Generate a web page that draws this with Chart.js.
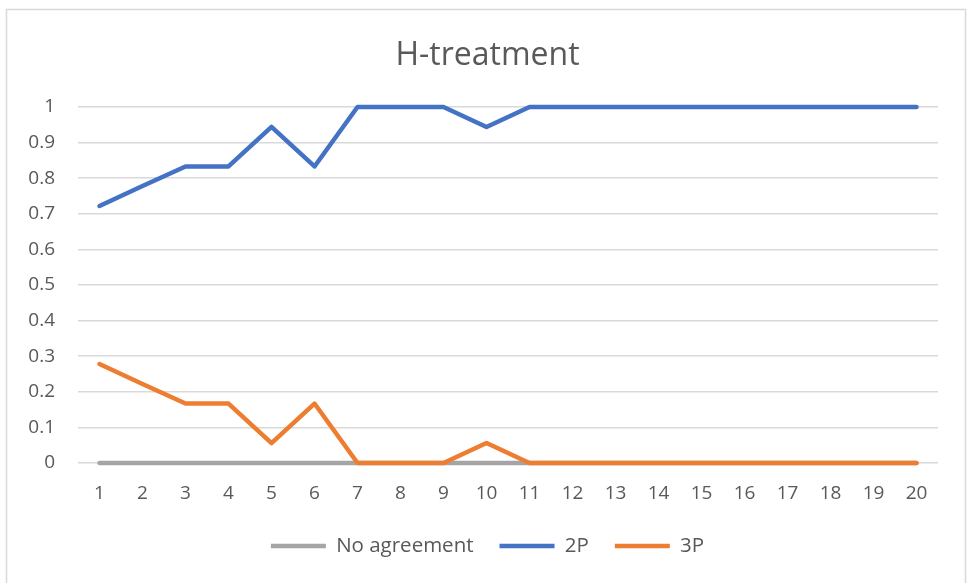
<!DOCTYPE html>
<html>
<head>
<meta charset="utf-8">
<script src="https://cdn.jsdelivr.net/npm/chart.js@4"></script>
<style>
  html, body { margin: 0; padding: 0; background: #fff; }
  #wrap { width: 971px; height: 583px; }
</style>
</head>
<body>
<div id="wrap"><canvas id="chart" width="971" height="583"></canvas></div>
<script>
// data
const rounds = ['1','2','3','4','5','6','7','8','9','10','11','12','13','14','15','16','17','18','19','20'];
const noAgreement = [0,0,0,0,0,0,0,0,0,0,0,0,0,0,0,0,0,0,0,0];
const twoP = [0.722,0.778,0.833,0.833,0.944,0.833,1,1,1,0.944,1,1,1,1,1,1,1,1,1,1];
const threeP = [0.278,0.222,0.167,0.167,0.056,0.167,0,0,0,0.056,0,0,0,0,0,0,0,0,0,0];

const textColor = '#595959';
const gridColor = '#d9d9d9';
const fontFamily = '"Open Sans", "Noto Sans", sans-serif';

// light frame round the whole chart, like the Excel chart border
const framePlugin = {
  id: 'frame',
  beforeDraw(chart) {
    const ctx = chart.ctx;
    ctx.save();
    ctx.strokeStyle = gridColor;
    ctx.lineWidth = 1.5;
    ctx.strokeRect(6.5, 9.5, 959, 590);
    ctx.restore();
  },
};

const ctx = document.getElementById('chart').getContext('2d');
new Chart(ctx, {
  type: 'line',
  data: {
    labels: rounds,
    datasets: [
      {
        label: 'No agreement',
        data: noAgreement,
        borderColor: '#a5a5a5',
        backgroundColor: '#a5a5a5',
        borderWidth: 4.5,
        clip: false,
        order: 3,
      },
      {
        label: '2P',
        data: twoP,
        borderColor: '#4472c4',
        backgroundColor: '#4472c4',
        borderWidth: 4.5,
        clip: false,
        order: 2,
      },
      {
        label: '3P',
        data: threeP,
        borderColor: '#ed7d31',
        backgroundColor: '#ed7d31',
        borderWidth: 4.5,
        clip: false,
        order: 1,
      },
    ],
  },
  options: {
    responsive: false,
    animation: false,
    layout: { padding: { left: 4, right: 0, top: 10, bottom: 16.75 } },
    elements: {
      line: { tension: 0, borderCapStyle: 'round', borderJoinStyle: 'round' },
      point: { radius: 0, hoverRadius: 0 },
    },
    scales: {
      x: {
        offset: true,
        grid: { display: false, drawTicks: false },
        border: { display: false },
        ticks: { color: textColor, font: { family: fontFamily, size: 19 }, padding: 19, maxRotation: 0 },
        afterFit(scale) { scale.height = 46.75; },
      },
      y: {
        min: 0,
        max: 1,
        grid: { color: gridColor, lineWidth: 1.5, drawTicks: false },
        border: { display: false },
        ticks: {
          stepSize: 0.1,
          color: textColor,
          font: { family: fontFamily, size: 19 },
          padding: 23,
          callback: (v) => String(Math.round(v * 10) / 10),
        },
        afterFit(scale) { scale.width = 74; },
      },
      // empty right axis only keeps the right margin, so the title stays centred
      spacer: {
        position: 'right',
        display: true,
        grid: { display: false, drawTicks: false },
        border: { display: false },
        ticks: { display: false },
        afterFit(scale) { scale.width = 33; },
      },
    },
    plugins: {
      title: {
        display: true,
        text: 'H-treatment',
        color: textColor,
        font: { family: fontFamily, size: 32, weight: 'normal' },
        padding: { top: 26.8, bottom: 31.8 },
      },
      legend: {
        position: 'bottom',
        labels: {
          color: textColor,
          font: { family: fontFamily, size: 20.5 },
          usePointStyle: true,
          pointStyle: 'line',
          pointStyleWidth: 55,
          padding: 26,
          sort: (a, b) => a.datasetIndex - b.datasetIndex,
        },
      },
      tooltip: { enabled: false },
    },
  },
  plugins: [framePlugin],
});
</script>
</body>
</html>
